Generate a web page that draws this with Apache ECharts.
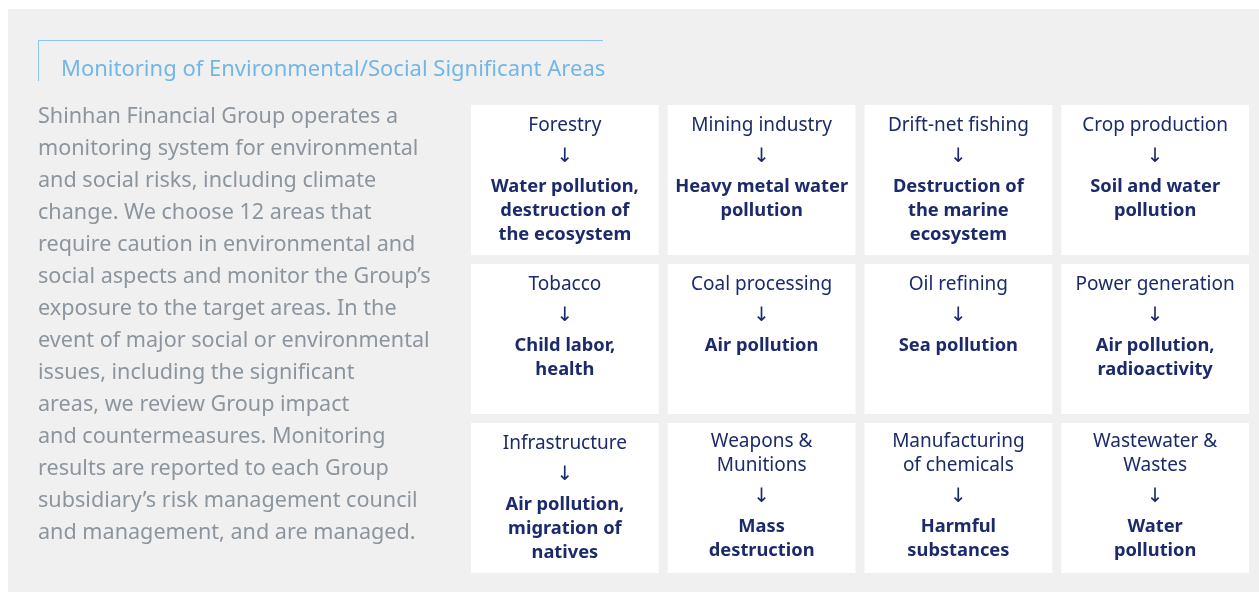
<!DOCTYPE html>
<html>
<head>
<meta charset="utf-8">
<script src="https://cdn.jsdelivr.net/npm/echarts@6/dist/echarts.min.js"></script>
<style>
html,body{margin:0;padding:0;background:#ffffff;}
#chart{width:1259px;height:592px;}
</style>
</head>
<body>
<div id="chart"></div>
<script>
// ---- data ----
const titleText = 'Monitoring of Environmental/Social Significant Areas';
const paragraphLines = [
  'Shinhan Financial Group operates a',
  'monitoring system for environmental',
  'and social risks, including climate',
  'change. We choose 12 areas that',
  'require caution in environmental and',
  'social aspects and monitor the Group\u2019s',
  'exposure to the target areas. In the',
  'event of major social or environmental',
  'issues, including the significant',
  'areas, we review Group impact',
  'and countermeasures. Monitoring',
  'results are reported to each Group',
  'subsidiary\u2019s risk management council',
  'and management, and are managed.'
];
const columns = ['c1', 'c2', 'c3', 'c4'];
const rows = ['r1', 'r2', 'r3'];
const areas = [
  'Forestry', 'Mining industry', 'Drift-net fishing', 'Crop production',
  'Tobacco', 'Coal processing', 'Oil refining', 'Power generation',
  'Infrastructure', 'Weapons &\nMunitions', 'Manufacturing\nof chemicals', 'Wastewater &\nWastes'
];
const impacts = [
  'Water pollution,\ndestruction of\nthe ecosystem', 'Heavy metal water\npollution', 'Destruction of\nthe marine\necosystem', 'Soil and water\npollution',
  'Child labor,\nhealth', 'Air pollution', 'Sea pollution', 'Air pollution,\nradioactivity',
  'Air pollution,\nmigration of\nnatives', 'Mass\ndestruction', 'Harmful\nsubstances', 'Water\npollution'
];
const cellData = areas.map((a, i) => [columns[i % 4], rows[Math.floor(i / 4)], i]);

const FONT = '"Noto Sans", "DejaVu Sans", sans-serif';
const NAVY = '#1b2a6b';

const chart = echarts.init(document.getElementById('chart'), null, {renderer: 'canvas'});
const option = {
  backgroundColor: '#ffffff',
  animation: false,
  graphic: [
    {type: 'rect', z: -10, shape: {x: 8, y: 9, width: 1251, height: 583}, style: {fill: '#f0f0f0'}},
    {type: 'line', shape: {x1: 38.5, y1: 40.5, x2: 603, y2: 40.5}, style: {stroke: '#8cc4ec', lineWidth: 1}},
    {type: 'line', shape: {x1: 38.5, y1: 40.5, x2: 38.5, y2: 81}, style: {stroke: '#8cc4ec', lineWidth: 1}},
    {type: 'text', x: 61, y: 70, style: {text: titleText, fill: '#72b6e6', font: '22px ' + FONT, textVerticalAlign: 'middle'}},
    {type: 'text', x: 38, y: 101, style: {text: paragraphLines.join('\n'), fill: '#8c959e', font: '21.6px ' + FONT, lineHeight: 32, textVerticalAlign: 'top'}}
  ],
  grid: {left: 466.5, top: 100.5, width: 787, height: 477},
  xAxis: {type: 'category', data: columns, show: false},
  yAxis: {type: 'category', data: rows, inverse: true, show: false},
  series: [{
    type: 'custom',
    data: cellData,
    renderItem: function (params, api) {
      const idx = api.value(2);
      const c = api.coord([api.value(0), api.value(1)]);
      const s = api.size([1, 1]);
      const w = s[0] - 9, h = s[1] - 9;
      const x0 = c[0] - w / 2, y0 = c[1] - h / 2;
      const catLines = areas[idx].split('\n').length;
      const catY = y0 + (catLines > 1 ? 19 : 21);
      const arrowY = catY + 24 * (catLines - 1) + 30;
      const impY = arrowY + 31;
      return {
        type: 'group',
        children: [
          {type: 'rect', shape: {x: x0, y: y0, width: w, height: h}, style: {fill: '#ffffff'}},
          {type: 'text', style: {x: c[0], y: catY - 12, text: areas[idx], fill: NAVY, font: '19px ' + FONT, lineHeight: 24, align: 'center', verticalAlign: 'top'}},
          {type: 'text', style: {x: c[0], y: arrowY - 12, text: '\u2193', fill: NAVY, font: '20px ' + FONT, lineHeight: 24, align: 'center', verticalAlign: 'top'}},
          {type: 'text', style: {x: c[0], y: impY - 12, text: impacts[idx], fill: NAVY, font: 'bold 18.3px ' + FONT, lineHeight: 24, align: 'center', verticalAlign: 'top'}}
        ]
      };
    }
  }]
};
chart.setOption(option);
</script>
</body>
</html>
